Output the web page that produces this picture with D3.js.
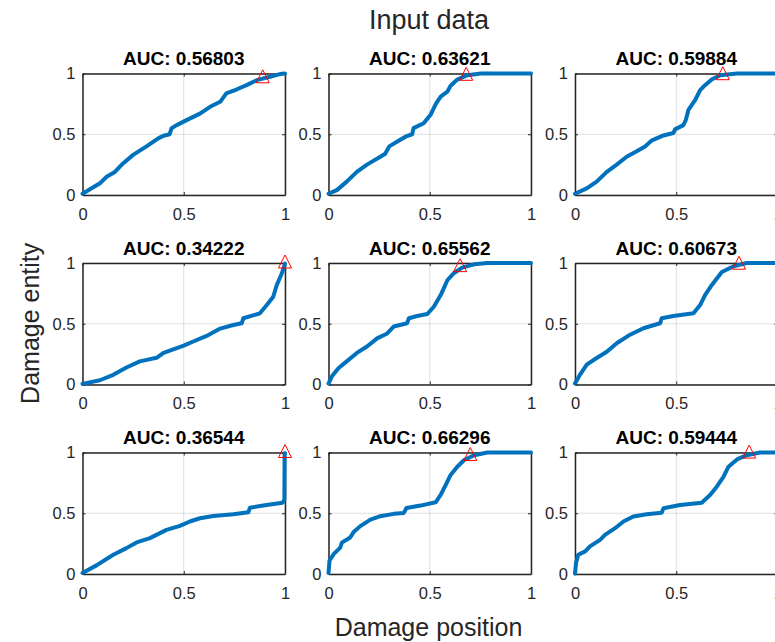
<!DOCTYPE html>
<html>
<head>
<meta charset="utf-8">
<script src="https://cdn.jsdelivr.net/npm/d3@7"></script>
<style>
  html, body { margin: 0; padding: 0; background: #fff; }
  svg { display: block; font-family: "Liberation Sans", Arial, Helvetica, sans-serif; }
</style>
</head>
<body>
<svg id="chart" width="775" height="642"></svg>
<script>
// ROC-style curves of damage entity vs damage position, one per panel
const aucLabels = ["0.56803", "0.63621", "0.59884", "0.34222", "0.65562", "0.60673", "0.36544", "0.66296", "0.59444"];

const curve1 = [[0,0.01],[0.086,0.096],[0.119,0.15],[0.16,0.19],[0.2,0.26],[0.25,0.33],[0.316,0.40],[0.374,0.466],[0.4,0.488],[0.43,0.50],[0.44,0.55],[0.465,0.575],[0.514,0.616],[0.58,0.67],[0.63,0.726],[0.68,0.767],[0.71,0.836],[0.76,0.868],[0.81,0.904],[0.86,0.945],[0.926,0.973],[0.975,0.995],[1,1]];
const curve2 = [[0,0.01],[0.041,0.04],[0.09,0.11],[0.14,0.19],[0.19,0.25],[0.256,0.315],[0.28,0.34],[0.30,0.40],[0.34,0.44],[0.38,0.48],[0.413,0.50],[0.42,0.55],[0.47,0.59],[0.504,0.66],[0.53,0.75],[0.554,0.81],[0.587,0.85],[0.603,0.90],[0.636,0.95],[0.686,0.986],[0.752,1],[1,1]];
const curve3 = [[0,0.01],[0.058,0.055],[0.107,0.11],[0.157,0.19],[0.206,0.25],[0.255,0.315],[0.305,0.36],[0.346,0.40],[0.38,0.45],[0.437,0.49],[0.486,0.51],[0.494,0.54],[0.535,0.575],[0.547,0.616],[0.56,0.70],[0.593,0.78],[0.618,0.863],[0.642,0.904],[0.675,0.95],[0.717,0.986],[0.8,1],[1,1]];
const curve4 = [[0,0.005],[0.086,0.035],[0.152,0.08],[0.217,0.14],[0.283,0.19],[0.366,0.22],[0.4,0.26],[0.5,0.32],[0.547,0.354],[0.613,0.40],[0.68,0.46],[0.745,0.49],[0.786,0.504],[0.794,0.545],[0.876,0.586],[0.91,0.654],[0.942,0.722],[0.959,0.817],[0.984,0.913],[0.995,0.967],[1,0.995]];
const curve5 = [[0,0.008],[0.017,0.068],[0.05,0.136],[0.09,0.19],[0.14,0.26],[0.19,0.313],[0.24,0.38],[0.29,0.42],[0.322,0.477],[0.388,0.504],[0.397,0.545],[0.438,0.564],[0.488,0.58],[0.52,0.64],[0.554,0.736],[0.587,0.858],[0.62,0.918],[0.66,0.962],[0.72,0.989],[0.785,1],[1,1]];
const curve6 = [[0,0.008],[0.025,0.082],[0.058,0.163],[0.107,0.218],[0.157,0.27],[0.206,0.34],[0.272,0.41],[0.338,0.463],[0.42,0.504],[0.428,0.545],[0.486,0.564],[0.585,0.586],[0.618,0.654],[0.642,0.736],[0.675,0.817],[0.725,0.926],[0.783,0.973],[0.848,1],[1,1]];
const curve7 = [[0,0.008],[0.069,0.071],[0.152,0.158],[0.217,0.213],[0.267,0.26],[0.333,0.295],[0.415,0.363],[0.481,0.396],[0.53,0.432],[0.58,0.459],[0.646,0.478],[0.745,0.492],[0.819,0.508],[0.827,0.546],[0.909,0.568],[0.988,0.587],[0.997,0.61],[0.998,0.99],[1,0.995]];
const curve8 = [[0,0.008],[0.005,0.11],[0.025,0.163],[0.058,0.217],[0.066,0.258],[0.107,0.3],[0.124,0.345],[0.157,0.394],[0.207,0.448],[0.256,0.476],[0.322,0.495],[0.372,0.503],[0.385,0.543],[0.455,0.563],[0.529,0.59],[0.554,0.652],[0.579,0.734],[0.603,0.815],[0.636,0.883],[0.67,0.938],[0.719,0.978],[0.785,1],[1,1]];
const curve9 = [[0,0.003],[0.005,0.09],[0.016,0.158],[0.05,0.186],[0.074,0.227],[0.124,0.281],[0.148,0.322],[0.198,0.377],[0.239,0.432],[0.288,0.473],[0.354,0.492],[0.428,0.505],[0.437,0.541],[0.519,0.568],[0.626,0.587],[0.667,0.65],[0.7,0.719],[0.733,0.8],[0.758,0.883],[0.8,0.943],[0.848,0.978],[0.914,1],[1,1]];
const curves = [curve1, curve2, curve3, curve4, curve5, curve6, curve7, curve8, curve9];

// Operating point marked with a triangle in each panel
const markerX = [0.89, 0.68, 0.73, 1.0, 0.65, 0.81, 1.0, 0.70, 0.86];
const markerY = [0.965, 0.985, 0.99, 1.0, 0.97, 0.99, 1.0, 0.975, 0.995];

const tickValues = [0, 0.5, 1];
const tickLabels = ["0", "0.5", "1"];

const svg = d3.select("#chart");
const colLeft = [82.5, 328.5, 575];
const rowTop = [73.5, 263, 452.5];
const panelW = 202.5, panelH = 121.5;
const axisColor = "#262626";
const fmt = v => tickLabels[tickValues.indexOf(v)];

curves.forEach((data, i) => {
  const col = i % 3, row = Math.floor(i / 3);
  const g = svg.append("g").attr("transform", `translate(${colLeft[col]},${rowTop[row]})`);
  const x = d3.scaleLinear().domain([0, 1]).range([0, panelW]);
  const y = d3.scaleLinear().domain([0, 1]).range([panelH, 0]);

  // grid
  g.append("g").selectAll("line").data(tickValues).join("line")
    .attr("x1", d => x(d)).attr("x2", d => x(d)).attr("y1", 0).attr("y2", panelH)
    .attr("stroke", axisColor).attr("stroke-opacity", 0.15).attr("stroke-width", 1);
  g.append("g").selectAll("line").data(tickValues).join("line")
    .attr("y1", d => y(d)).attr("y2", d => y(d)).attr("x1", 0).attr("x2", panelW)
    .attr("stroke", axisColor).attr("stroke-opacity", 0.15).attr("stroke-width", 1);

  // axes with inward ticks on all four sides
  const tickLen = 3;
  const styleAxis = sel => {
    sel.select(".domain").attr("stroke", axisColor).attr("stroke-width", 1.5);
    sel.selectAll(".tick line").attr("stroke", axisColor).attr("stroke-width", 1);
    sel.selectAll(".tick text").attr("fill", axisColor).style("font-size", "16.5px")
      .style("font-family", '"Liberation Sans", Arial, sans-serif');
  };
  g.append("g").attr("transform", `translate(0,${panelH})`)
    .call(d3.axisBottom(x).tickValues(tickValues).tickFormat(fmt).tickSizeInner(-tickLen).tickSizeOuter(0).tickPadding(13))
    .call(styleAxis);
  g.append("g")
    .call(d3.axisLeft(y).tickValues(tickValues).tickFormat(fmt).tickSizeInner(-tickLen).tickSizeOuter(0).tickPadding(7))
    .call(styleAxis);
  g.append("g")
    .call(d3.axisTop(x).tickValues(tickValues).tickFormat("").tickSizeInner(-tickLen).tickSizeOuter(0))
    .call(styleAxis);
  g.append("g").attr("transform", `translate(${panelW},0)`)
    .call(d3.axisRight(y).tickValues(tickValues).tickFormat("").tickSizeInner(-tickLen).tickSizeOuter(0))
    .call(styleAxis);

  // curve
  const line = d3.line().x(d => x(d[0])).y(d => y(d[1]));
  g.append("path").datum(data).attr("d", line)
    .attr("fill", "none").attr("stroke", "#0072BD").attr("stroke-width", 4)
    .attr("stroke-linejoin", "round").attr("stroke-linecap", "round");

  // triangle marker
  const mx = x(markerX[i]), my = y(markerY[i]);
  g.append("path")
    .attr("d", `M${mx},${my - 8}L${mx + 6.5},${my + 5}L${mx - 6.5},${my + 5}Z`)
    .attr("fill", "none").attr("stroke", "#FF0000").attr("stroke-width", 1);

  // panel title
  g.append("text").attr("x", panelW / 2).attr("y", -8.5)
    .attr("text-anchor", "middle").attr("font-weight", "bold").attr("font-size", 19)
    .attr("fill", "#000").text("AUC: " + aucLabels[i]);
});

// figure-level labels
svg.append("text").attr("x", 429).attr("y", 28.5).attr("text-anchor", "middle")
  .attr("font-size", 27).attr("fill", axisColor).text("Input data");
svg.append("text").attr("x", 428.5).attr("y", 636).attr("text-anchor", "middle")
  .attr("font-size", 25).attr("fill", axisColor).text("Damage position");
svg.append("text").attr("transform", "translate(38.5,323.3) rotate(-90)").attr("text-anchor", "middle")
  .attr("font-size", 25).attr("fill", axisColor).text("Damage entity");
</script>
</body>
</html>
